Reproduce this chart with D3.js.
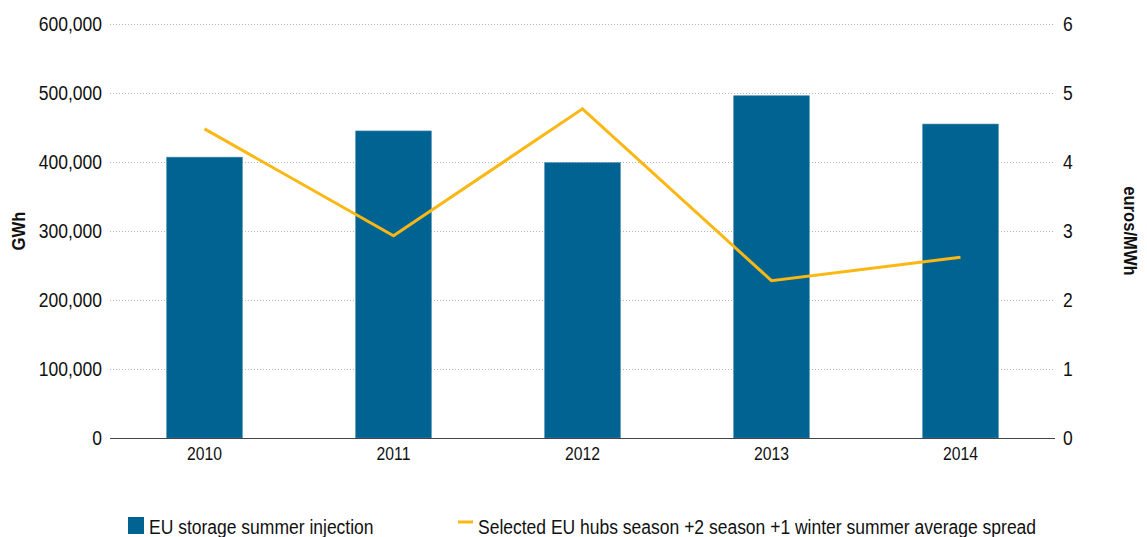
<!DOCTYPE html>
<html><head><meta charset="utf-8">
<script src="https://cdn.jsdelivr.net/npm/d3@7/dist/d3.min.js"></script>
<style>body{margin:0;background:#fff}svg{display:block}</style>
</head><body><svg id="c" width="1147" height="537"></svg>
<script>
const years = ["2010","2011","2012","2013","2014"];
const injection = [407000, 445000, 399000, 496000, 455000];
const spread = [4.48, 2.93, 4.77, 2.28, 2.62];
const leftTicks = [0,100000,200000,300000,400000,500000,600000];
const rightTicks = [0,1,2,3,4,5,6];
const barName = "EU storage summer injection";
const lineName = "Selected EU hubs season +2 season +1 winter summer average spread";

const FONT = "'Liberation Sans',Arial,sans-serif";
const SX = 0.875;
const svg = d3.select("#c");
const m = {l:110, r:1055, t:24, b:438};
const x = d3.scaleBand().domain(years).range([m.l, m.r]).paddingInner(0.6).paddingOuter(0.3);
const yL = d3.scaleLinear().domain([0,600000]).range([m.b, m.t]);
const yR = d3.scaleLinear().domain([0,6]).range([m.b, m.t]);

// gridlines
svg.append("g").selectAll("line").data(leftTicks.filter(d=>d>0)).join("line")
  .attr("x1", m.l).attr("x2", m.r).attr("y1", d=>yL(d)+0.5).attr("y2", d=>yL(d)+0.5)
  .attr("stroke", "#b4b4b4").attr("stroke-width", 1).attr("stroke-dasharray", "1,2");

// bars
svg.append("g").selectAll("rect").data(years).join("rect")
  .attr("x", d=>x(d)).attr("width", x.bandwidth())
  .attr("y", (d,i)=>yL(injection[i])).attr("height", (d,i)=>yL(0)-yL(injection[i]))
  .attr("fill", "#016391").attr("stroke", "#3f86ad").attr("stroke-width", 0.6);

// baseline
svg.append("line").attr("x1", m.l).attr("x2", m.r).attr("y1", m.b+0.5).attr("y2", m.b+0.5)
  .attr("stroke", "#444").attr("stroke-width", 1.2);

// line
const line = d3.line().x((d,i)=>x(years[i])+x.bandwidth()/2).y(d=>yR(d));
svg.append("path").datum(spread).attr("d", line).attr("fill","none")
  .attr("stroke", "#fbb713").attr("stroke-width", 3).attr("stroke-linejoin","miter");

// left axis
const axL = svg.append("g").attr("transform", `translate(${m.l-8},0)`)
  .call(d3.axisLeft(yL).tickValues(leftTicks).tickSize(0).tickPadding(0).tickFormat(d3.format(",")));
axL.select(".domain").remove();
axL.selectAll("text").attr("x",0).attr("font-family", FONT).attr("font-size", 20).attr("fill", "#111")
  .attr("transform", `scale(${SX},1)`);

// right axis
const axR = svg.append("g").attr("transform", `translate(${m.r+8},0)`)
  .call(d3.axisRight(yR).tickValues(rightTicks).tickSize(0).tickPadding(0).tickFormat(d3.format("d")));
axR.select(".domain").remove();
axR.selectAll("text").attr("x",0).attr("font-family", FONT).attr("font-size", 20).attr("fill", "#111")
  .attr("transform", `scale(${SX},1)`);

// x axis
const axX = svg.append("g").attr("transform", `translate(0,${m.b})`)
  .call(d3.axisBottom(x).tickSize(0).tickPadding(9));
axX.select(".domain").remove();
axX.selectAll("text").attr("font-family", FONT).attr("font-size", 18).attr("fill", "#111")
  .attr("transform", `scale(${SX},1)`);

// axis titles
svg.append("text").attr("transform", `translate(25,231) rotate(-90) scale(${SX},1)`)
  .attr("text-anchor","middle").attr("font-family", FONT).attr("font-size", 19)
  .attr("font-weight","bold").attr("fill","#111").text("GWh");
svg.append("text").attr("transform", `translate(1124,231) rotate(90) scale(${SX},1)`)
  .attr("text-anchor","middle").attr("font-family", FONT).attr("font-size", 19)
  .attr("font-weight","bold").attr("fill","#111").text("euros/MWh");

// legend
const lg = svg.append("g");
lg.append("rect").attr("x",128).attr("y",517).attr("width",16).attr("height",17).attr("fill","#016391");
lg.append("text").attr("transform",`translate(149,534) scale(${SX},1)`).attr("font-family",FONT).attr("font-size",20)
  .attr("fill","#111").text(barName);
lg.append("line").attr("x1",458).attr("x2",473).attr("y1",522).attr("y2",522)
  .attr("stroke","#fbb713").attr("stroke-width",3);
lg.append("text").attr("transform",`translate(478,534) scale(${SX},1)`).attr("font-family",FONT).attr("font-size",20)
  .attr("fill","#111").text(lineName);
</script></body></html>
